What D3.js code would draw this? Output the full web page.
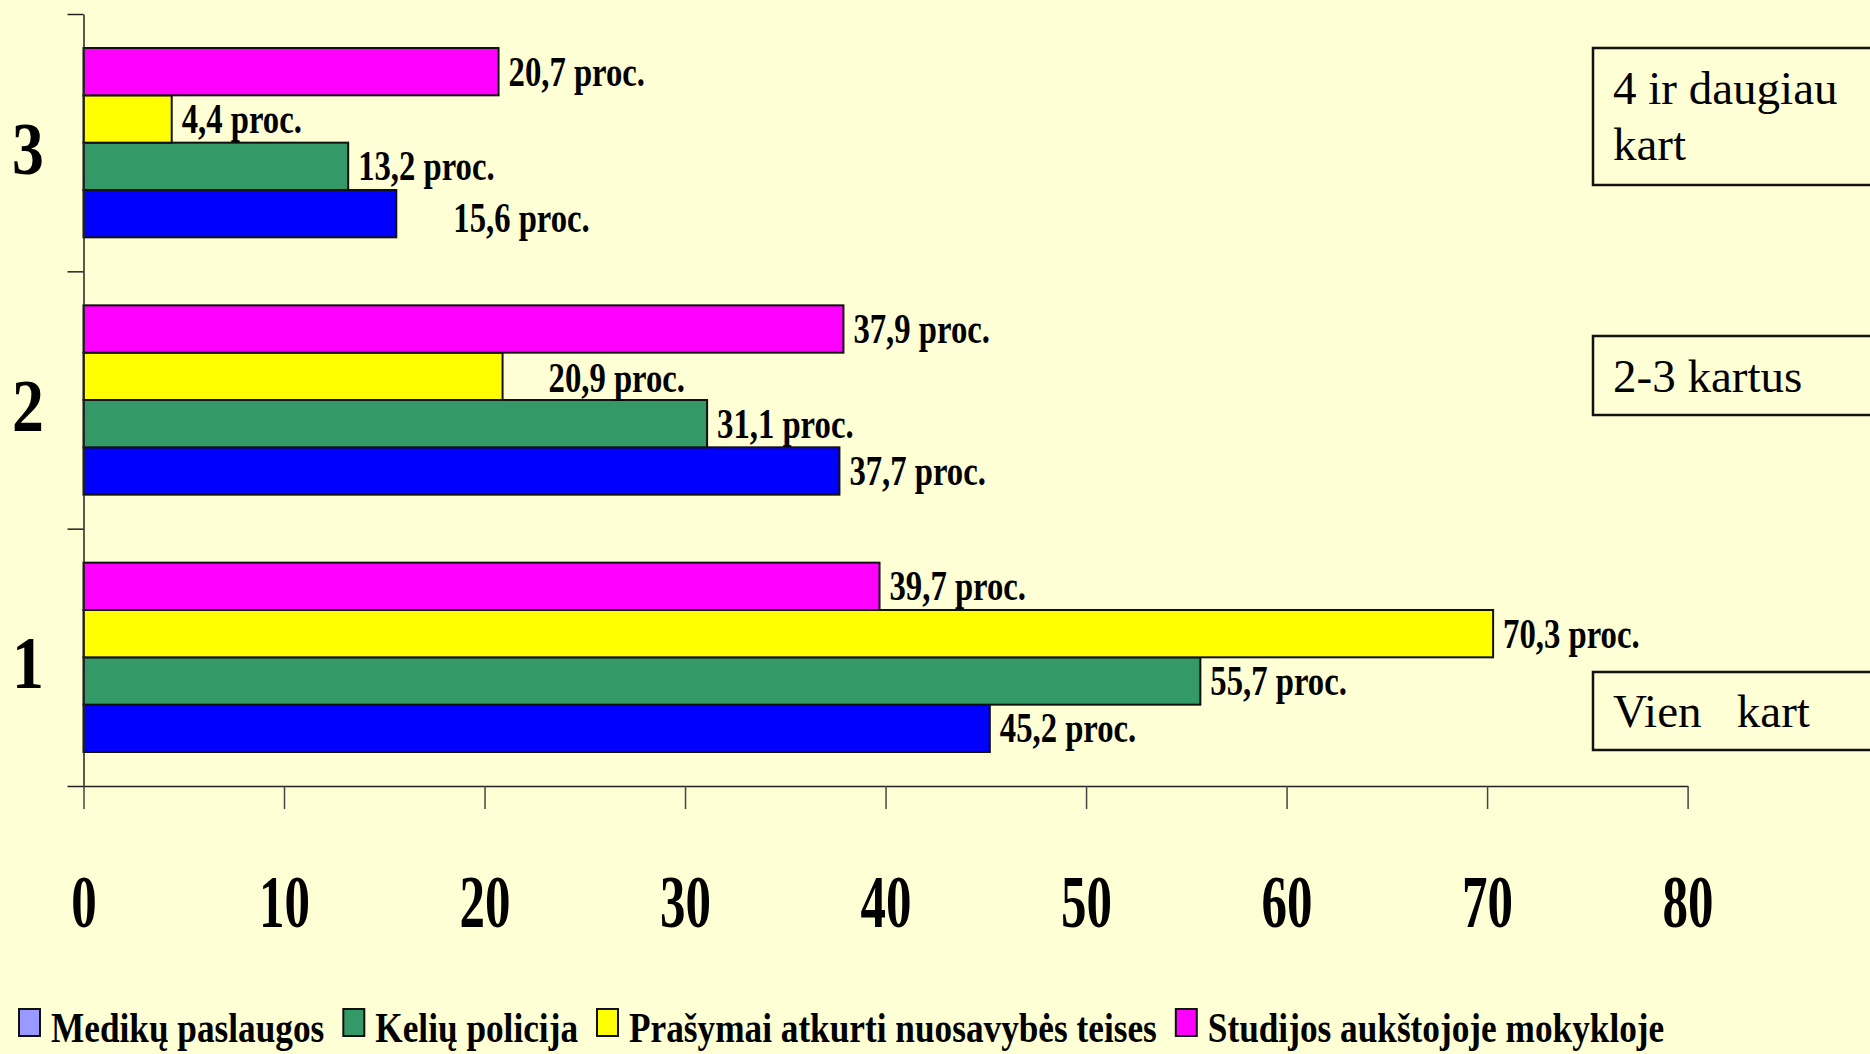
<!DOCTYPE html>
<html>
<head>
<meta charset="utf-8">
<script src="https://cdn.jsdelivr.net/npm/d3@7"></script>
<style>
  html, body { margin: 0; padding: 0; background: #FFFFD5; }
  svg { display: block; }
</style>
</head>
<body>
<div id="chart"></div>
<script>
// Data
const categories = ["1", "2", "3"];
const medikai  = [45.2, 37.7, 15.6];   // Medikų paslaugos
const keliu    = [55.7, 31.1, 13.2];   // Kelių policija
const prasymai = [70.3, 20.9, 4.4];    // Prašymai atkurti nuosavybės teises
const studijos = [39.7, 37.9, 20.7];   // Studijos aukštojoje mokykloje
const seriesNames = ["Medikų paslaugos", "Kelių policija",
  "Prašymai atkurti nuosavybės teises", "Studijos aukštojoje mokykloje"];
const freqLabels = ["Vien   kart", "2-3 kartus", "4 ir daugiau kart"];
const xTicks = [0, 10, 20, 30, 40, 50, 60, 70, 80];

// Styles
const barColors  = ["#0000FF", "#339966", "#FFFF00", "#FF00FF"];
const keyColors  = ["#9999FF", "#339966", "#FFFF00", "#FF00FF"];
const serif = "'Liberation Serif', 'Times New Roman', serif";

const W = 1870, H = 1054;
const plot = { left: 83.5, right: 1687.6, top: 14, bottom: 786 };

const svg = d3.select("#chart").append("svg")
  .attr("width", W).attr("height", H);
svg.append("rect").attr("width", W).attr("height", H).attr("fill", "#FFFFD5");

// Scales
const x = d3.scaleLinear().domain([0, 80]).range([plot.left, plot.right]);
const y0 = d3.scaleBand().domain(["3", "2", "1"]).range([plot.top, plot.bottom]);
// series drawn top to bottom: Studijos, Prašymai, Kelių, Medikų
const y1 = d3.scaleBand().domain([3, 2, 1, 0]).range([34, y0.bandwidth() - 34]);
const yLin = d3.scaleLinear().domain([0, 3]).range([plot.bottom, plot.top]);

// Bars
const rows = [];
categories.forEach((c, i) => {
  [medikai, keliu, prasymai, studijos].forEach((arr, s) => {
    rows.push({ cat: c, s: s, v: arr[i] });
  });
});

svg.append("g").selectAll("rect").data(rows).join("rect")
  .attr("x", x(0))
  .attr("y", d => y0(d.cat) + y1(d.s))
  .attr("width", d => x(d.v) - x(0))
  .attr("height", y1.bandwidth())
  .attr("fill", d => barColors[d.s])
  .attr("stroke", "#111")
  .attr("stroke-width", 2);

// Value labels (a couple are shifted in the original)
const nudge = { "3-0": [47, 4], "2-2": [36, 2] };
svg.append("g").selectAll("text").data(rows).join("text")
  .attr("transform", d => {
    const n = nudge[d.cat + "-" + d.s] || [0, 0];
    const tx = x(d.v) + 10 + n[0];
    const ty = y0(d.cat) + y1(d.s) + y1.bandwidth() / 2 + 14 + n[1];
    return `translate(${tx},${ty}) scale(0.76,1)`;
  })
  .attr("font-family", serif)
  .attr("font-weight", "bold")
  .attr("font-size", 43)
  .attr("fill", "#000")
  .text(d => d3.format(".1f")(d.v).replace(".", ",") + " proc.");

// X axis
const xAxis = svg.append("g")
  .attr("transform", `translate(0,${plot.bottom})`)
  .call(d3.axisBottom(x).tickValues(xTicks).tickSize(23).tickSizeOuter(0).tickPadding(65));
xAxis.select(".domain").attr("stroke", "#222").attr("stroke-width", 1.5);
xAxis.selectAll(".tick line").attr("stroke", "#444").attr("stroke-width", 1.5);
xAxis.selectAll(".tick text")
  .attr("font-family", serif)
  .attr("font-weight", "bold")
  .attr("font-size", 75)
  .attr("fill", "#000")
  .attr("transform", "scale(0.68,1)");

// Y axis: ticks at the band boundaries
const yAxis = svg.append("g")
  .attr("transform", `translate(${plot.left},0)`)
  .call(d3.axisLeft(yLin).tickValues([0, 1, 2, 3]).tickFormat("").tickSize(16).tickSizeOuter(0));
yAxis.select(".domain").attr("stroke", "#222").attr("stroke-width", 1.5);
yAxis.selectAll(".tick line").attr("stroke", "#222").attr("stroke-width", 1.5);

// Category labels
svg.append("g").selectAll("text").data(categories).join("text")
  .attr("transform", d => `translate(28,${y0(d) + y0.bandwidth() / 2 + 31}) scale(0.85,1)`)
  .attr("text-anchor", "middle")
  .attr("font-family", serif)
  .attr("font-weight", "bold")
  .attr("font-size", 75)
  .text(d => d);

// Frequency boxes on the right
const boxes = [
  { lines: [freqLabels[0]], top: 672, bottom: 750 },
  { lines: [freqLabels[1]], top: 336, bottom: 415 },
  { lines: ["4 ir daugiau", "kart"], top: 48, bottom: 185 }
];
const bx = svg.append("g");
boxes.forEach(b => {
  bx.append("rect")
    .attr("x", 1593).attr("y", b.top)
    .attr("width", 300).attr("height", b.bottom - b.top)
    .attr("fill", "none").attr("stroke", "#111").attr("stroke-width", 2.5);
  const n = b.lines.length;
  b.lines.forEach((t, k) => {
    bx.append("text")
      .attr("x", 1613)
      .attr("y", n === 1 ? b.bottom - 23 : b.top + 56 + k * 56)
      .attr("font-family", serif)
      .attr("font-size", 47)
      .attr("fill", "#000")
      .style("white-space", "pre")
      .text(t);
  });
});

// Legend
const legend = svg.append("g");
let lx = 19;
seriesNames.forEach((name, i) => {
  legend.append("rect")
    .attr("x", lx).attr("y", 1009)
    .attr("width", 21).attr("height", 27)
    .attr("fill", keyColors[i]).attr("stroke", "#111").attr("stroke-width", 2);
  const tx = lx + 32;
  const t = legend.append("text")
    .attr("transform", `translate(${tx},1042) scale(0.82,1)`)
    .attr("font-family", serif)
    .attr("font-weight", "bold")
    .attr("font-size", 43)
    .attr("fill", "#000")
    .text(name);
  lx = tx + t.node().getComputedTextLength() * 0.82 + 19;
});
</script>
</body>
</html>
